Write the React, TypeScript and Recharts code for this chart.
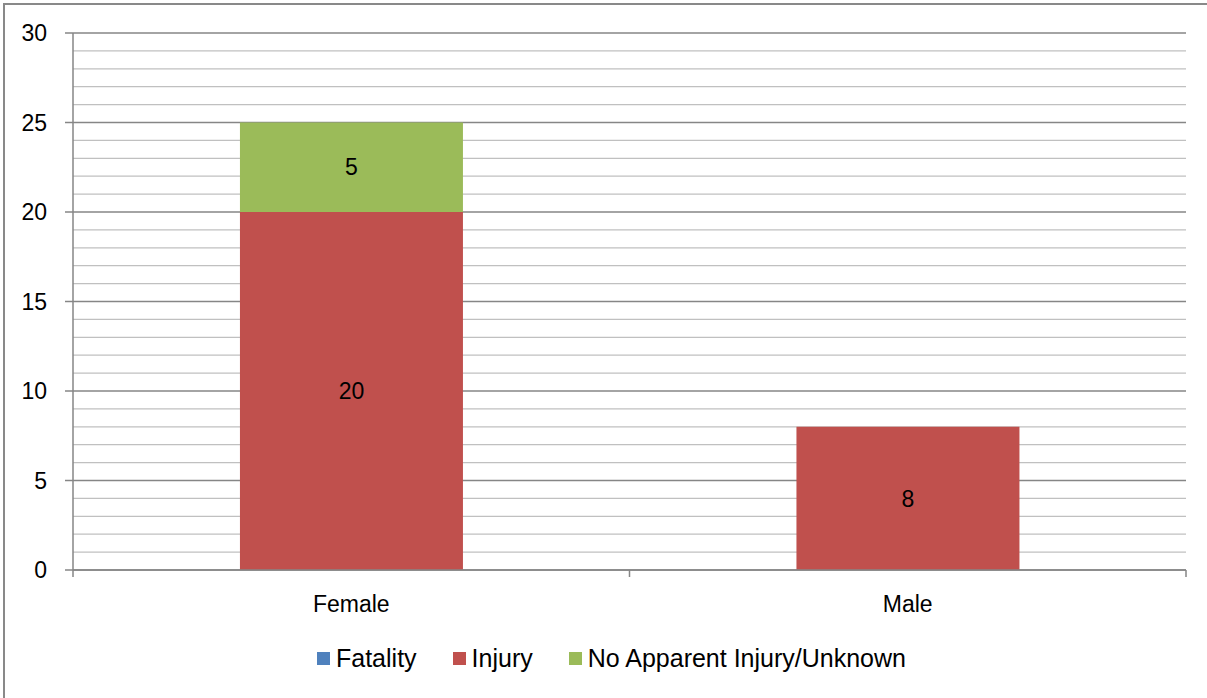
import { BarChart, Bar, XAxis, YAxis, CartesianGrid, Legend, LabelList } from 'recharts';

const genders = ['Female', 'Male'];
const fatality = [0, 0];
const injury = [20, 8];
const noApparent = [5, 0];
const yTicks = [0, 1, 2, 3, 4, 5, 6, 7, 8, 9, 10, 11, 12, 13, 14, 15, 16, 17, 18, 19, 20, 21, 22, 23, 24, 25, 26, 27, 28, 29, 30];

const data = genders.map((g, i) => ({
  name: g,
  fatality: fatality[i],
  injury: injury[i],
  noApparent: noApparent[i],
}));

const FONT = '"Liberation Sans", Arial, sans-serif';
const MAJOR = '#868686';
const MINOR = '#c0c0c0';

const GridLine = (props: any) => {
  const major = props.index % 5 === 0;
  return (
    <line
      x1={props.x1}
      y1={props.y1}
      x2={props.x2}
      y2={props.y2}
      stroke={major ? MAJOR : MINOR}
      strokeWidth={major ? 1.6 : 1.3}
    />
  );
};

const YTick = (props: any) => {
  const { x, y, payload } = props;
  if (payload.value % 5 !== 0) return null;
  return (
    <g>
      <line x1={x - 8} y1={y} x2={x} y2={y} stroke={MAJOR} strokeWidth={1.5} />
      <text x={x - 26} y={y} dy={8} textAnchor="end" fontSize={23} fontFamily={FONT} fill="#000">
        {payload.value}
      </text>
    </g>
  );
};

const XTick = (props: any) => {
  const { x, y, payload, index } = props;
  const half = payload.offset || 278;
  return (
    <g>
      {index === 0 && <line x1={x - half} y1={y} x2={x - half} y2={y + 7} stroke={MAJOR} strokeWidth={1.5} />}
      <line x1={x + half} y1={y} x2={x + half} y2={y + 7} stroke={MAJOR} strokeWidth={1.5} />
      <text x={x} y={y} dy={42} textAnchor="middle" fontSize={23} fontFamily={FONT} fill="#000">
        {payload.value}
      </text>
    </g>
  );
};

const LegendContent = (props: any) => (
  <div style={{ display: 'flex', alignItems: 'center', fontFamily: FONT, fontSize: 25, color: '#000' }}>
    {(props.payload || []).map((p: any, i: number) => (
      <div key={i} style={{ display: 'flex', alignItems: 'center', marginRight: 36 }}>
        <span style={{ width: 13, height: 13, background: p.color, display: 'inline-block', marginRight: 6 }} />
        <span>{p.value}</span>
      </div>
    ))}
  </div>
);

const hideZero = (v: any) => (v ? v : '');

export default function App() {
  return (
    <div
      style={{
        position: 'absolute',
        left: 0,
        top: 0,
        width: 1207,
        height: 698,
        background: '#fff',
      }}
    >
      <div
        style={{
          position: 'absolute',
          left: 3,
          top: 3,
          right: 0,
          bottom: 0,
          borderLeft: '2px solid #898989',
          borderTop: '2px solid #898989',
        }}
      />
      <BarChart
        width={1207}
        height={698}
        data={data}
        margin={{ top: 33, right: 21, left: 0, bottom: 0 }}
        barCategoryGap="30%"
      >
        <CartesianGrid vertical={false} horizontal={GridLine} />
        <XAxis
          dataKey="name"
          height={128}
          axisLine={{ stroke: MAJOR, strokeWidth: 1.5 }}
          tickLine={false}
          tickSize={0}
          tickMargin={0}
          tick={XTick}
          interval={0}
        />
        <YAxis
          width={73}
          domain={[0, 30]}
          ticks={yTicks}
          interval={0}
          axisLine={{ stroke: MAJOR, strokeWidth: 1.5 }}
          tickLine={false}
          tickSize={0}
          tickMargin={0}
          tick={YTick}
        />
        <Legend
          layout="horizontal"
          verticalAlign="middle"
          align="center"
          wrapperStyle={{ top: 644, left: 317, width: 'auto' }}
          content={LegendContent}
        />
        <Bar dataKey="fatality" name="Fatality" stackId="a" fill="#4F81BD" isAnimationActive={false} />
        <Bar dataKey="injury" name="Injury" stackId="a" fill="#C0504D" isAnimationActive={false}>
          <LabelList dataKey="injury" position="center" formatter={hideZero} fill="#000" fontSize={23} fontFamily={FONT} />
        </Bar>
        <Bar dataKey="noApparent" name="No Apparent Injury/Unknown" stackId="a" fill="#9BBB59" isAnimationActive={false}>
          <LabelList dataKey="noApparent" position="center" formatter={hideZero} fill="#000" fontSize={23} fontFamily={FONT} />
        </Bar>
      </BarChart>
    </div>
  );
}
